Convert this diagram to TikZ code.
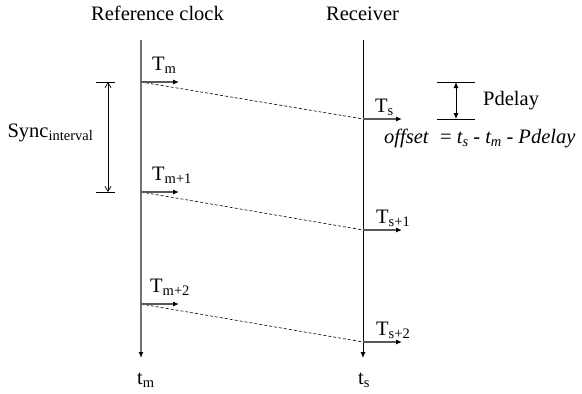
\documentclass[tikz,border=0pt]{standalone}
\usepackage{fontspec}
\setmainfont{Liberation Serif}
\usetikzlibrary{arrows.meta}
\newcommand{\lowsub}[1]{\raisebox{-3pt}{\fontsize{14.5}{15}\selectfont #1}}
\begin{document}
\begin{tikzpicture}[x=1pt,y=-1pt,
  lbl/.style={font=\fontsize{20.5}{23}\selectfont, inner sep=0pt, anchor=base west},
  sig/.style={draw=black!65, line width=1.1pt, -{Latex[length=6pt,width=5pt,color=black]}},
  msg/.style={draw=black, line width=0.6pt, dash pattern=on 3pt off 2pt},
  tick/.style={draw=black, line width=0.7pt}]
\useasboundingbox (0,0) rectangle (582,394);
% time lines
\coordinate (mtop) at (141,40);
\coordinate (mbot) at (141,358);
\coordinate (stop) at (363,40);
\coordinate (sbot) at (363,358);
\draw[draw=black!55, line width=1.6pt, -{Latex[length=6pt,width=5pt,color=black]}] (mtop) -- (mbot);
\draw[draw=black, line width=0.9pt, -{Latex[length=6pt,width=5pt]}] (stop) -- (sbot);
% events
\coordinate (m1) at (141,82);  \coordinate (m1e) at (179,82);
\coordinate (m2) at (141,192); \coordinate (m2e) at (179,192);
\coordinate (m3) at (141,304); \coordinate (m3e) at (179,304);
\coordinate (s1) at (363,119); \coordinate (s1e) at (402,119);
\coordinate (s2) at (363,230); \coordinate (s2e) at (402,230);
\coordinate (s3) at (363,342); \coordinate (s3e) at (402,342);
\draw[msg] (m1) -- (s1);
\draw[msg] (m2) -- (s2);
\draw[msg] (m3) -- (s3);
\draw[sig] (m1) -- (m1e);
\draw[sig] (m2) -- (m2e);
\draw[sig] (m3) -- (m3e);
\draw[sig] (s1) -- (s1e);
\draw[sig] (s2) -- (s2e);
\draw[sig] (s3) -- (s3e);
% labels
\node[lbl] (hm) at (91,20) {Reference clock};
\node[lbl] (hs) at (326,20) {Receiver};
\node[lbl] (lm1) at (152,70) {T\lowsub{m}};
\node[lbl] (lm2) at (152,180) {T\lowsub{m+1}};
\node[lbl] (lm3) at (150,292) {T\lowsub{m+2}};
\node[lbl] (ls1) at (375,112) {T\lowsub{s}};
\node[lbl] (ls2) at (376,223) {T\lowsub{s+1}};
\node[lbl] (ls3) at (376,335) {T\lowsub{s+2}};
\node[lbl] (tm) at (137,384) {t\lowsub{m}};
\node[lbl] (ts) at (358,384) {t\lowsub{s}};
% sync interval
\coordinate (a1) at (96,82);  \coordinate (a1e) at (115,82);
\coordinate (a2) at (96,192); \coordinate (a2e) at (115,192);
\draw[tick] (a1) -- (a1e);
\draw[tick] (a2) -- (a2e);
\coordinate (sa) at (108,82); \coordinate (sb) at (108,192);
\draw[draw=black, line width=0.7pt, {Straight Barb[length=5pt,width=6pt]}-{Straight Barb[length=5pt,width=6pt]}] (sa) -- (sb);
\node[lbl, anchor=base east] (sync) at (93,137) {Sync\lowsub{interval}};
% pdelay
\coordinate (p1) at (437,82);  \coordinate (p1e) at (475,82);
\coordinate (p2) at (437,119); \coordinate (p2e) at (475,119);
\draw[tick] (p1) -- (p1e);
\draw[tick] (p2) -- (p2e);
\coordinate (pa) at (456,82); \coordinate (pb) at (456,119);
\draw[draw=black, line width=0.8pt, {Latex[length=6pt,width=5pt]}-{Latex[length=6pt,width=5pt]}] (pa) -- (pb);
\node[lbl] (pd) at (483,105) {Pdelay};
\node[lbl] (off) at (384,143) {\itshape offset\/\hspace{6pt} \upshape = \itshape t\lowsub{\itshape s} \upshape - \itshape t\lowsub{\itshape m} \upshape - \itshape Pdelay};
\end{tikzpicture}
\end{document}
